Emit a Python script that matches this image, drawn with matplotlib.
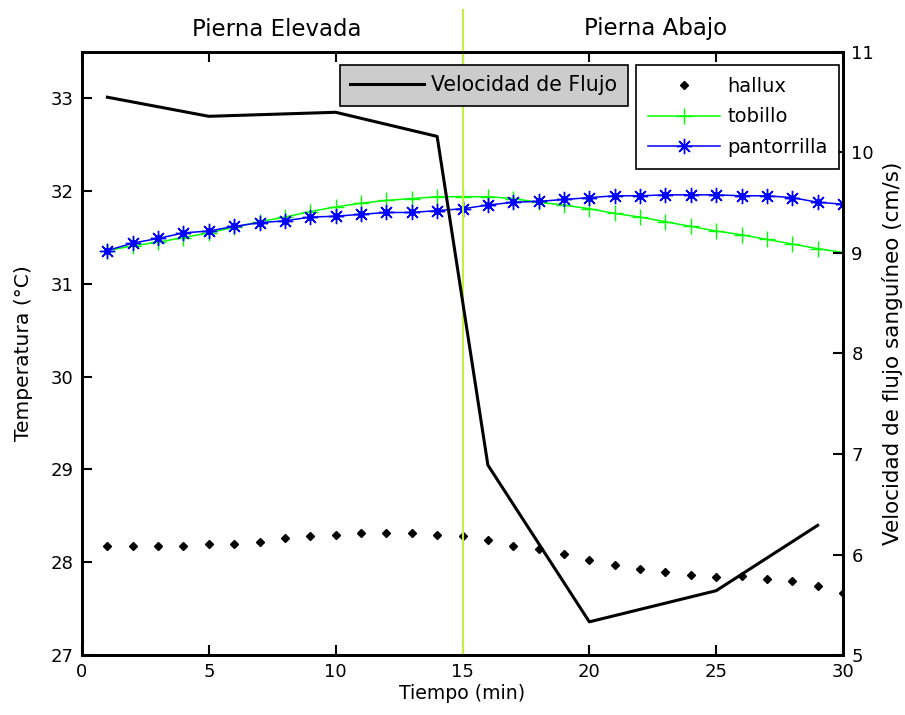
import matplotlib.pyplot as plt
from matplotlib.lines import Line2D
import numpy as np

plt.rcParams['font.family'] = 'DejaVu Sans'

# time axis (min)
t = list(range(1, 31))

# temperatures (degC)
hallux = [28.18, 28.18, 28.17, 28.17, 28.20, 28.20, 28.22, 28.26, 28.28, 28.29,
          28.31, 28.31, 28.31, 28.29, 28.28, 28.24, 28.18, 28.14, 28.09, 28.02,
          27.97, 27.93, 27.90, 27.86, 27.84, 27.85, 27.82, 27.80, 27.74, 27.67]
tobillo = [31.36, 31.41, 31.45, 31.50, 31.55, 31.61, 31.67, 31.72, 31.78, 31.83,
           31.87, 31.90, 31.92, 31.94, 31.94, 31.94, 31.92, 31.88, 31.85, 31.81,
           31.76, 31.72, 31.67, 31.62, 31.57, 31.53, 31.48, 31.43, 31.38, 31.34]
pantorrilla = [31.36, 31.44, 31.49, 31.55, 31.57, 31.62, 31.66, 31.68, 31.72, 31.73,
               31.75, 31.77, 31.77, 31.79, 31.81, 31.85, 31.88, 31.89, 31.91, 31.93,
               31.95, 31.95, 31.96, 31.96, 31.96, 31.95, 31.95, 31.93, 31.88, 31.86]

# blood flow speed (cm/s)
t_flujo = [1, 5, 10, 14, 16, 20, 25, 29]
flujo = [10.55, 10.36, 10.40, 10.16, 6.89, 5.33, 5.64, 6.29]

fig = plt.figure(figsize=(9.05, 7.15), dpi=100)
ax1 = fig.add_axes([0.0906, 0.0839, 0.8409, 0.8434])
ax2 = ax1.twinx()

fs = 13
ast = (8, 2, 0)  # asterisk

ax1.plot(t, hallux, linestyle='none', marker='D', ms=4.5, color='black', label='hallux')
ax1.plot(t, tobillo, color='#00ff00', lw=1.1, marker='+', ms=12, mew=1.0, label='tobillo')
ax1.plot(t, pantorrilla, color='#0000ff', lw=1.1, marker=ast, ms=11, mew=1.0, label='pantorrilla')
ax1.plot(t, pantorrilla, linestyle='none', marker='o', ms=4, color='#0000ff')

ax1.set_xlim(0, 30)
ax1.set_ylim(27, 33.5)
ax1.set_xticks(range(0, 31, 5))
ax1.set_yticks(range(27, 34))
ax1.tick_params(direction='in', length=7, width=1.5, labelsize=fs, top=True, pad=6)
ax1.set_xlabel('Tiempo (min)', fontsize=13.6, labelpad=2)
ax1.set_ylabel('Temperatura (°C)', fontsize=14.6)
ax1.yaxis.set_label_coords(-0.064, 0.5)

ax2.plot(t_flujo, flujo, color='black', lw=2.2, label='Velocidad de Flujo')
ax2.set_ylim(5, 11)
ax2.set_yticks(range(5, 12))
ax2.tick_params(direction='in', length=7, width=1.5, labelsize=fs, pad=6)
ax2.set_ylabel('Velocidad de flujo sanguíneo (cm/s)', fontsize=15.5)
ax2.yaxis.set_label_coords(1.051, 0.5)

for ax in (ax1, ax2):
    for s in ax.spines.values():
        s.set_linewidth(2)

# separation line between phases
ax2.axvline(15, ymin=0, ymax=1.07, color='#c3ef3f', lw=1.5, clip_on=False, zorder=0)

fig.text(277 / 905, 1 - 29 / 715, 'Pierna Elevada', fontsize=16.5, ha='center', va='center')
fig.text(656 / 905, 1 - 29 / 715, 'Pierna Abajo', fontsize=16.5, ha='center', va='center')

leg1 = ax2.legend(loc='upper left', bbox_to_anchor=(340 / 905, 1 - 65 / 715),
                  bbox_transform=fig.transFigure, fontsize=14.8, fancybox=False,
                  facecolor='#cccccc', edgecolor='black', framealpha=1,
                  handlelength=3.6, handletextpad=0.35, borderaxespad=0, borderpad=0.5)
leg1.get_frame().set_linewidth(1.2)

handles = [Line2D([], [], linestyle='none', marker='D', ms=4.5, color='black'),
           Line2D([], [], color='#00ff00', lw=1.1, marker='+', ms=12, mew=1.0),
           Line2D([], [], color='#0000ff', lw=1.1, marker=ast, ms=11, mew=1.0)]
leg2 = ax2.legend(handles, ['hallux', 'tobillo', 'pantorrilla'], loc='upper left',
                  bbox_to_anchor=(636 / 905, 1 - 65 / 715), bbox_transform=fig.transFigure,
                  fontsize=14, fancybox=False, facecolor='white', edgecolor='black',
                  framealpha=1, handlelength=3.7, handletextpad=0.4, borderaxespad=0,
                  borderpad=0.6, labelspacing=0.6)
leg2.get_frame().set_linewidth(1.2)
ax2.add_artist(leg1)

fig.savefig('out.png', dpi=100)
